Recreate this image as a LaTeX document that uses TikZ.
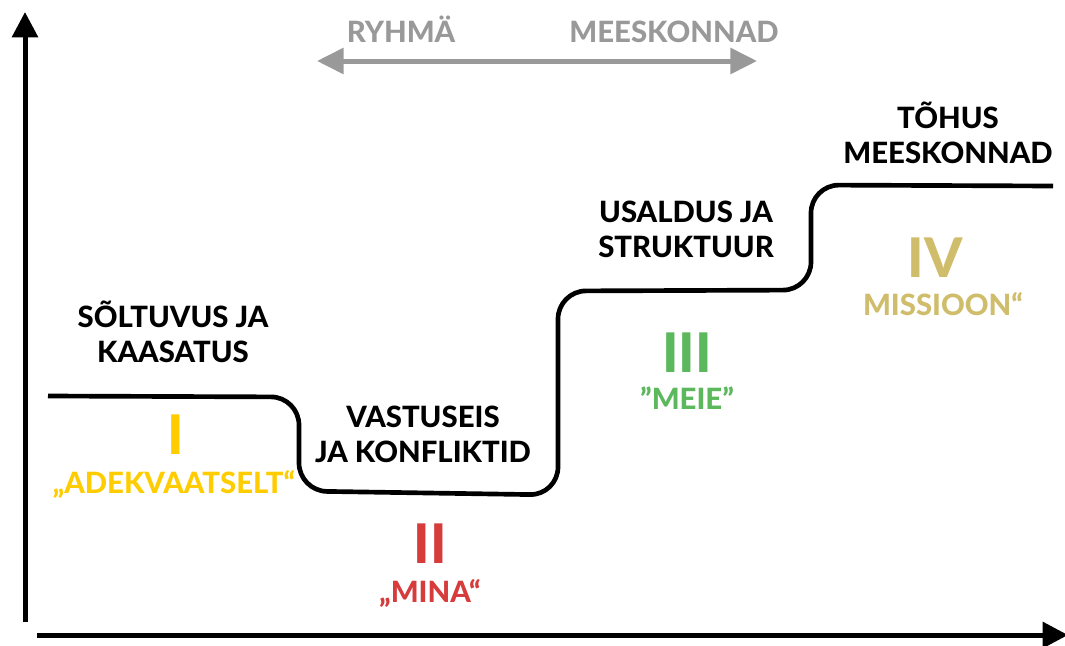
\documentclass[tikz,border=0pt]{standalone}
\usepackage{fontspec}
\setmainfont{Lato}[BoldFont={Lato Heavy}]
\usetikzlibrary{arrows.meta}
\definecolor{cgray}{HTML}{999999}
\definecolor{cyellow}{HTML}{FFCC00}
\definecolor{cred}{HTML}{D63C3C}
\definecolor{cgreen}{HTML}{5CB85C}
\definecolor{ctan}{HTML}{CFBD6B}
\tikzset{
  axis/.style={line width=3.75pt,-{Triangle[width=19pt,length=19pt]}},
  stage/.style={line width=3.5pt,rounded corners=21pt},
  lbl/.style={font=\bfseries\fontsize{22}{26.25}\selectfont,align=center,anchor=base,inner sep=0pt},
  num/.style={font=\bfseries\fontsize{41}{41}\selectfont,anchor=base,inner sep=0pt},
  grayarrow/.style={line width=3.75pt,cgray,{Triangle[width=19pt,length=20pt]}-{Triangle[width=19pt,length=20pt]}},
}
\begin{document}
\begin{tikzpicture}[x=0.75pt,y=-0.75pt]
\useasboundingbox (0,0) rectangle (1065,646);
% axes
\coordinate (yb) at (25,622);
\coordinate (yt) at (25,12);
\coordinate (xb) at (37,635);
\coordinate (xt) at (1068,635);
\draw[axis] (yb) -- (yt);
\draw[axis] (xb) -- (xt);
% gray arrow
\coordinate (ga) at (317,61);
\coordinate (gb) at (757,61);
\draw[grayarrow] (ga) -- (gb);
\node[lbl,text=cgray] (ryhma) at (401,42) {RYHMÄ};
\node[lbl,text=cgray] (meesk) at (674,42) {MEESKONNAD};
% stage curve
\coordinate (s0) at (48,396);
\coordinate (s1) at (299,397);
\coordinate (s2) at (299,491);
\coordinate (s3) at (558,495);
\coordinate (s4) at (558,291);
\coordinate (s5) at (811,290);
\coordinate (s6) at (811,185);
\coordinate (s7) at (1053,186);
\draw[stage] (s0) -- (s1) -- (s2) -- (s3) -- (s4) -- (s5) -- (s6) -- (s7);
% labels (anchor = baseline of last line)
\node[lbl] (l1) at (173,362) {SÕLTUVUS JA\\KAASATUS};
\node[lbl] (l2) at (423,462) {VASTUSEIS\\JA KONFLIKTID};
\node[lbl] (l3) at (686,257) {USALDUS JA\\STRUKTUUR};
\node[lbl] (l4) at (948,163) {TÕHUS\\MEESKONNAD};
% numerals
\node[num,text=cyellow] (n1) at (176,454) {I};
\node[lbl,text=cyellow] (q1) at (174,493) {„ADEKVAATSELT“};
\node[num,text=cred] (n2) at (430,563) {II};
\node[lbl,text=cred] (q2) at (430,602) {„MINA“};
\node[num,text=cgreen] (n3) at (687,372) {III};
\node[lbl,text=cgreen] (q3) at (687,409) {”MEIE”};
\node[num,text=ctan] (n4) at (935,277) {IV};
\node[lbl,text=ctan] (q4) at (943,315) {MISSIOON“};
\end{tikzpicture}
\end{document}
